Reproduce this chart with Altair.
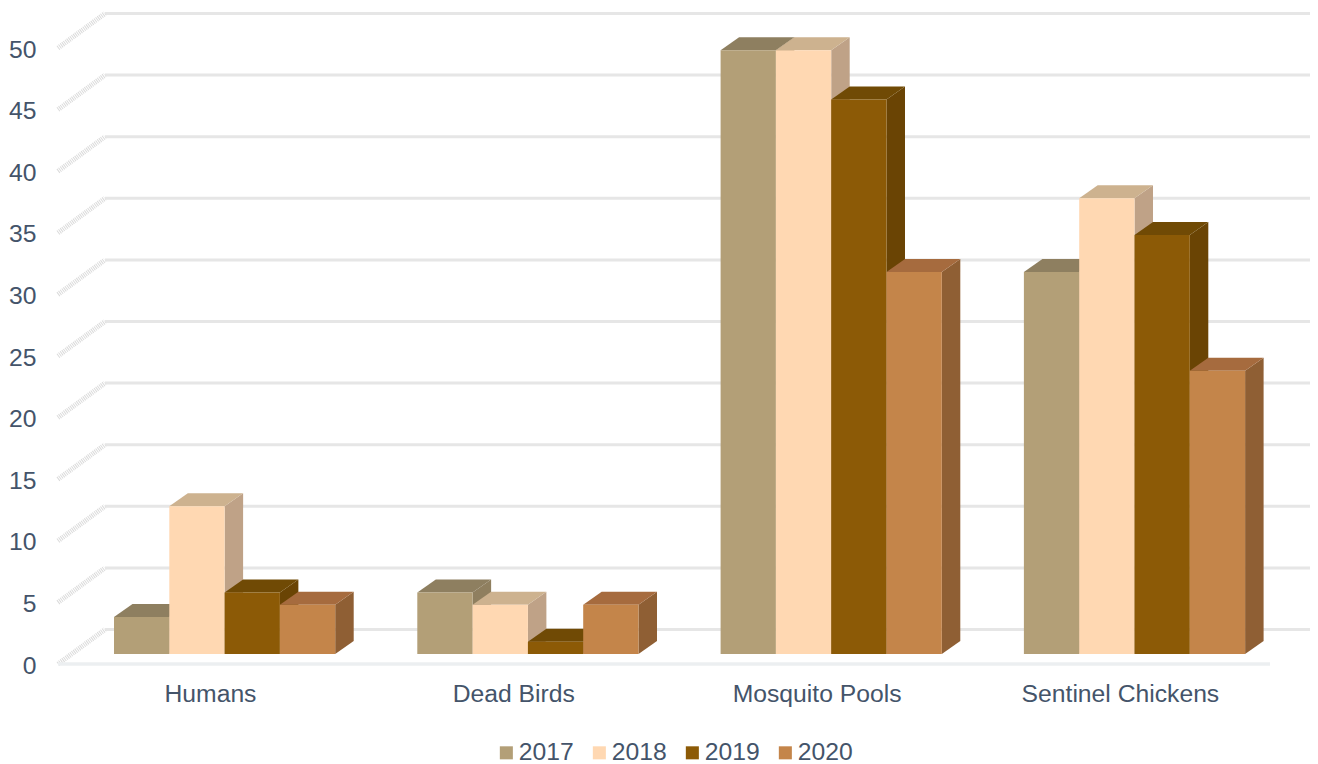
import altair as alt
import pandas as pd

categories = ["Humans", "Dead Birds", "Mosquito Pools", "Sentinel Chickens"]
years = ["2017", "2018", "2019", "2020"]
values_2017 = [3, 5, 49, 31]
values_2018 = [12, 4, 49, 37]
values_2019 = [5, 1, 45, 34]
values_2020 = [4, 4, 31, 23]
series = [values_2017, values_2018, values_2019, values_2020]
y_ticks = [0, 5, 10, 15, 20, 25, 30, 35, 40, 45, 50]

front_colors = ["#B39F77", "#FFD8B2", "#8C5A06", "#C4854A"]
side_colors = ["#8F7F5F", "#BFA287", "#6A4404", "#8F5F34"]
top_colors = ["#8E7F60", "#CDB28F", "#704A05", "#A66B3E"]
text_color = "#44546A"
FONT = "Liberation Sans"
FS = 24.7

# plot geometry
W, H = 1302, 756
STEP = 303.3       # px per category
PPU = 12.32        # px per value unit
X0, Y0 = 106, 646  # where group 0 / value 0 fall inside the view
x_scale = alt.Scale(domain=[-X0 / STEP, (W - X0) / STEP], nice=False, zero=False)
y_scale = alt.Scale(domain=[(Y0 - H) / PPU, Y0 / PPU], nice=False, zero=False)

bar_w = 55.3 / STEP
dx = 18.5 / STEP
dy = 13 / PPU
back_u = -9 / STEP
front_u = -56 / STEP
back_v = 24.5 / PPU
front_v = -10 / PPU
floor_end = (1270 - 114) / STEP
label_u = (210 - 114) / STEP

rows_side, rows_top, rows_front = [], [], []
for k, (yr, vals) in enumerate(zip(years, series)):
    for i, v in enumerate(vals):
        a = i + k * bar_w
        b = a + bar_w
        bid = f"{yr}-{i}"
        rows_front.append(dict(year=yr, cat=categories[i], a=a, b=b, v=v, z=0))
        rows_side += [dict(year=yr, id=bid, x=b, y=v, y2=0),
                      dict(year=yr, id=bid, x=b + dx, y=v + dy, y2=dy)]
        rows_top += [dict(year=yr, id=bid, x=a, y=v, y2=v),
                     dict(year=yr, id=bid, x=a + dx, y=v + dy, y2=v),
                     dict(year=yr, id=bid, x=b, y=v + dy, y2=v),
                     dict(year=yr, id=bid, x=b + dx, y=v + dy, y2=v + dy)]
side_df, top_df, front_df = map(pd.DataFrame, (rows_side, rows_top, rows_front))

grid_rows, wall_rows = [], []
x_max = (W - X0) / STEP
for t in y_ticks:
    grid_rows += [dict(t=t, x=back_u, y=t + back_v), dict(t=t, x=x_max, y=t + back_v)]
    wall_rows += [dict(t=t, x=front_u, y=t + front_v), dict(t=t, x=back_u, y=t + back_v)]
grid_df, wall_df = pd.DataFrame(grid_rows), pd.DataFrame(wall_rows)
floor_df = pd.DataFrame([dict(x=front_u, y=front_v), dict(x=floor_end, y=front_v)])

label_vals = [i + label_u for i in range(4)]
label_expr = "['Humans','Dead Birds','Mosquito Pools','Sentinel Chickens'][round(datum.value - %f)]" % label_u

AX = alt.Axis(
    values=label_vals, labelExpr=label_expr, orient="bottom", offset=-(H - 673), title=None,
    domain=False, ticks=False, grid=False, labelPadding=0, labelOverlap=False, labelLimit=400,
    labelFlush=False, labelFont=FONT, labelFontSize=FS, labelColor=text_color,
    labelBaseline="top")
AY = alt.Axis(
    values=y_ticks, orient="left", offset=-28, title=None, domain=False, ticks=False, grid=False,
    labelPadding=0, labelOverlap=False, labelFlush=False, labelFont=FONT, labelFontSize=FS,
    labelColor=text_color, labelOffset=12)
X = alt.X("x:Q", scale=x_scale, axis=AX)
Y = alt.Y("y:Q", scale=y_scale, axis=AY, stack=None)

layers = [
    alt.Chart(grid_df).mark_line(color="#E6E6E6", strokeWidth=3).encode(x=X, y=Y, detail="t:N"),
    alt.Chart(wall_df).mark_line(color="#DADADA", strokeWidth=5, strokeDash=[1, 1]).encode(x=X, y=Y, detail="t:N"),
    alt.Chart(floor_df).mark_line(color="#ECEFF1", strokeWidth=3.5).encode(x=X, y=Y),
]

color = alt.Color("year:N", scale=alt.Scale(domain=years, range=front_colors), legend=alt.Legend(
    title=None, orient="none", legendX=486, legendY=732, direction="horizontal",
    symbolType="square", symbolSize=170, symbolStrokeWidth=0, labelFont=FONT, labelFontSize=FS,
    labelColor=text_color, labelOffset=0, columnPadding=13, columns=4, labelLimit=100,
    padding=0, symbolOpacity=1))

for k, yr in enumerate(years):
    layers.append(alt.Chart(side_df[side_df.year == yr]).mark_area(color=side_colors[k], opacity=1).encode(
        x=X, y=Y, y2="y2:Q", detail="id:N"))
    layers.append(alt.Chart(top_df[top_df.year == yr]).mark_area(color=top_colors[k], opacity=1).encode(
        x=X, y=Y, y2="y2:Q", detail="id:N"))
    layers.append(alt.Chart(front_df[front_df.year == yr]).mark_rect().encode(
        x=alt.X("a:Q", scale=x_scale, axis=AX), x2="b:Q",
        y=alt.Y("v:Q", scale=y_scale, axis=AY), y2="z:Q",
        color=color))

chart = alt.layer(*layers).properties(
    width=W, height=H, padding=0, background="white",
    autosize=alt.AutoSizeParams(type="none"),
).configure_view(stroke=None)

chart.save("out.html", embed_options={"renderer": "svg", "actions": False})
